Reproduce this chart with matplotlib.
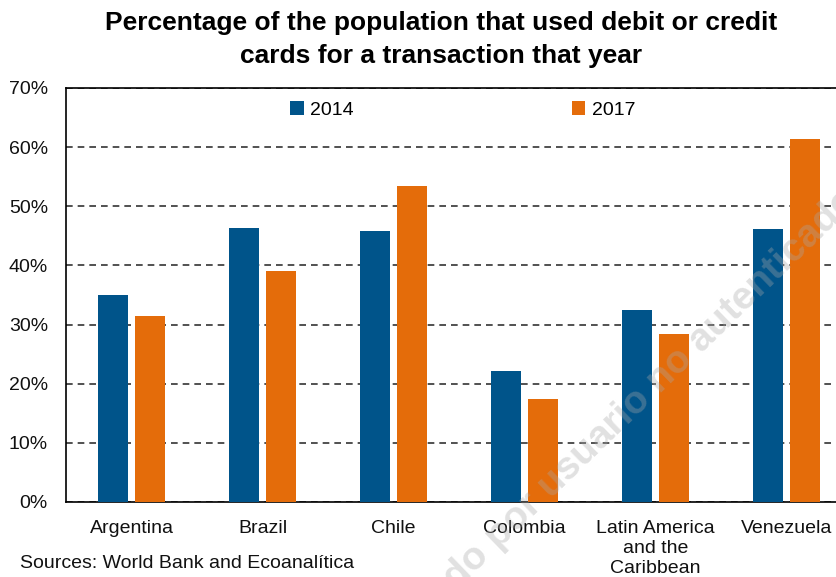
import matplotlib.pyplot as plt
import numpy as np

plt.rcParams['font.family'] = ['Liberation Sans', 'DejaVu Sans']

# datos (%)
paises = ["Argentina", "Brazil", "Chile", "Colombia", "Latin America\nand the\nCaribbean", "Venezuela"]
v2014 = [35.0, 46.4, 45.9, 22.2, 32.4, 46.2]
v2017 = [31.5, 39.0, 53.4, 17.4, 28.4, 61.3]
yticks = [0, 10, 20, 30, 40, 50, 60, 70]

azul = "#00548A"
naranja = "#E46C0A"

fig = plt.figure(figsize=(8.37, 5.77), dpi=100)
# el gráfico original está recortado por la derecha
ax = fig.add_axes([66 / 837, 75 / 577, 786 / 837, 414 / 577])

x = np.arange(len(paises))
ancho = 0.23
ax.bar(x - 0.142, v2014, ancho, color=azul, label="2014", zorder=3)
ax.bar(x + 0.142, v2017, ancho, color=naranja, label="2017", zorder=3)

ax.set_xlim(-0.5, len(paises) - 0.5)
ax.set_ylim(0, 70)
ax.set_yticks(yticks)
ax.set_yticklabels([f"{v}%" for v in yticks])
ax.set_xticks(x)
ax.set_xticklabels(paises, linespacing=1.22)
ax.tick_params(axis="both", length=0, labelsize=14, colors="#111111")
ax.tick_params(axis="y", pad=13)
ax.tick_params(axis="x", pad=13)

ax.grid(axis="y", linestyle=(0, (4, 3)), color="#333333", linewidth=1.2, zorder=0)
for s in ["left", "bottom", "top"]:
    ax.spines[s].set_color("black")
    ax.spines[s].set_linewidth(1.2)
ax.spines["right"].set_visible(False)

ax.legend(loc="upper center", bbox_to_anchor=(0.505, 1.01), ncol=2, frameon=False,
          fontsize=14, handlelength=0.7, handleheight=0.7, handletextpad=0.35,
          columnspacing=11.2)

fig.text(0.527, 1 - 11 / 577, "Percentage of the population that used debit or credit\ncards for a transaction that year",
         ha="center", va="top", fontsize=19, fontweight="bold", linespacing=1.45)
fig.text(20 / 837, 1 - 563 / 577, "Sources: World Bank and Ecoanalítica",
         ha="left", va="center", fontsize=14, color="#111111")

# marca de agua
fig.text(330 / 837, 1 - 712 / 577, "Descargado por usuario no autenticado",
         rotation=44, rotation_mode="anchor", ha="left", va="baseline",
         fontsize=28, fontweight="bold", color="#a8a8a8", alpha=0.35, zorder=10)

fig.savefig("out.png", dpi=100)
